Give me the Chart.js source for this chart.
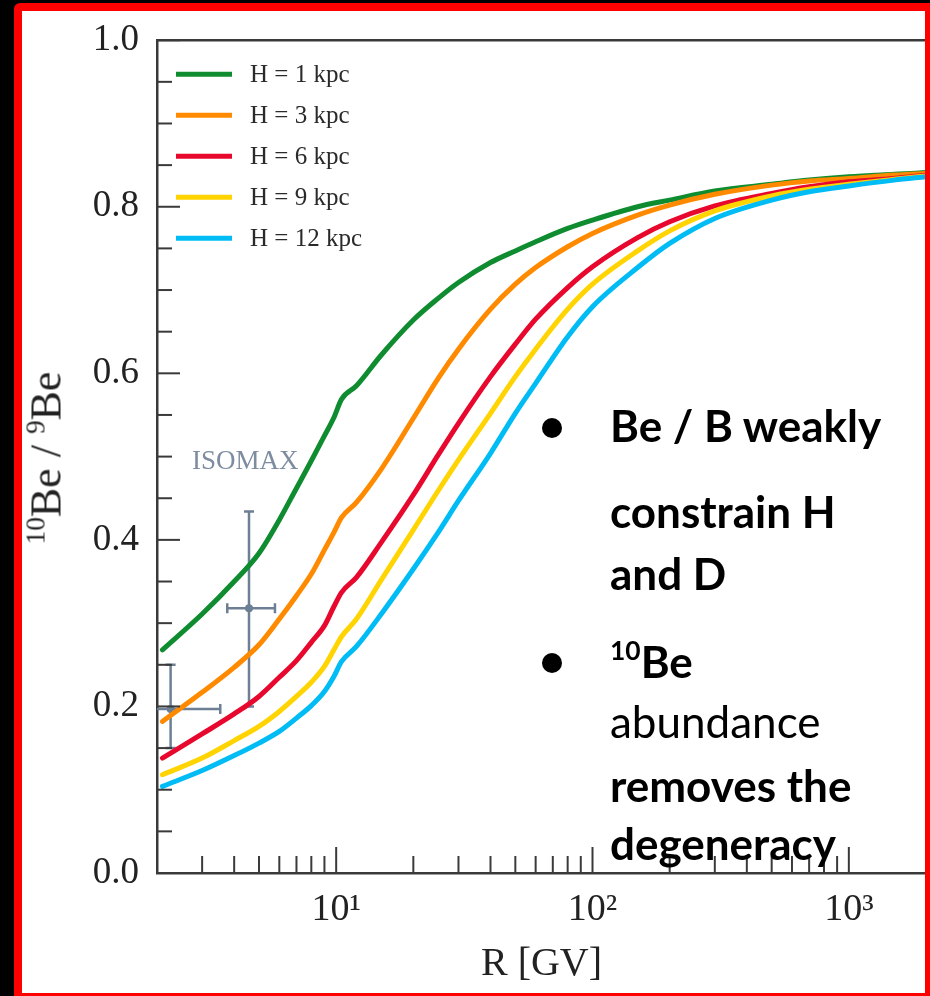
<!DOCTYPE html>
<html>
<head>
<meta charset="utf-8">
<script src="https://cdn.jsdelivr.net/npm/chart.js@4.4.0/dist/chart.umd.min.js"></script>
<style>
  html, body { margin: 0; padding: 0; background: #000; width: 930px; height: 996px; overflow: hidden; }
  #painel {
    position: absolute; left: 14px; top: 3px; width: 919px; height: 998px;
    box-sizing: border-box; border: 8px solid #ff0000; border-top-left-radius: 6px;
    background: #fff; overflow: hidden;
  }
  #grafico { position: absolute; left: -22px; top: -11px; }
  #titulo-y {
    position: absolute; left: 46px; top: 458px; white-space: nowrap;
    transform: translate(-50%, -50%) rotate(-90deg);
    font: 44px "Liberation Serif", serif; color: #222;
  }
  #titulo-y sup { font-size: 0.62em; vertical-align: baseline; position: relative; top: -0.6em; }
  .linha { position: absolute; left: 610px; white-space: nowrap; font: bold 44px Lato, sans-serif; line-height: 1; color: #000; }
  .linha.normal { font-weight: normal; }
  .linha sup { font-size: 0.6em; vertical-align: baseline; position: relative; top: -0.7em; }
  .bola { position: absolute; left: 542px; width: 20px; height: 20px; border-radius: 50%; background: #000; }
</style>
</head>
<body>
<div id="painel">
  <canvas id="grafico" width="940" height="996"></canvas>
</div>
<div id="titulo-y"><sup>10</sup>Be / <sup>9</sup>Be</div>

<div class="bola" style="top:418px"></div>
<div class="linha" style="top:403px">Be / B weakly</div>
<div class="linha" style="top:489px">constrain H</div>
<div class="linha" style="top:551px">and D</div>
<div class="bola" style="top:653px"></div>
<div class="linha" style="top:639px"><sup>10</sup>Be</div>
<div class="linha normal" style="top:699px">abundance</div>
<div class="linha" style="top:763px">removes the</div>
<div class="linha" style="top:821px">degeneracy</div>

<script>
// rigidity grid (GV) and 10Be/9Be ratio for each halo height
const rigidez = [2.1, 3, 4, 5, 6, 7, 8, 9, 9.8, 10.5, 12, 15, 20, 25, 30, 40, 50, 60, 80, 100, 150, 200, 300, 500, 700, 1000, 1500, 2000];
const razaoH1 = [0.268, 0.311, 0.350, 0.384, 0.424, 0.462, 0.495, 0.525, 0.547, 0.569, 0.585, 0.622, 0.664, 0.690, 0.709, 0.733, 0.747, 0.758, 0.774, 0.784, 0.800, 0.808, 0.819, 0.827, 0.832, 0.836, 0.839, 0.841];
const razaoH3 = [0.182, 0.217, 0.247, 0.274, 0.305, 0.333, 0.359, 0.388, 0.409, 0.427, 0.445, 0.485, 0.546, 0.594, 0.629, 0.677, 0.707, 0.727, 0.752, 0.768, 0.790, 0.802, 0.815, 0.826, 0.831, 0.834, 0.838, 0.840];
const razaoH6 = [0.138, 0.167, 0.191, 0.212, 0.235, 0.255, 0.277, 0.297, 0.320, 0.337, 0.355, 0.397, 0.454, 0.502, 0.540, 0.596, 0.635, 0.665, 0.703, 0.728, 0.763, 0.782, 0.801, 0.816, 0.824, 0.830, 0.834, 0.838];
const razaoH9 = [0.118, 0.138, 0.159, 0.176, 0.194, 0.212, 0.229, 0.248, 0.268, 0.284, 0.305, 0.352, 0.412, 0.459, 0.496, 0.552, 0.596, 0.629, 0.677, 0.707, 0.747, 0.771, 0.795, 0.813, 0.821, 0.827, 0.833, 0.837];
const razaoH12 = [0.104, 0.123, 0.141, 0.156, 0.170, 0.186, 0.201, 0.218, 0.236, 0.254, 0.272, 0.311, 0.365, 0.409, 0.447, 0.504, 0.552, 0.588, 0.644, 0.680, 0.727, 0.756, 0.786, 0.808, 0.818, 0.825, 0.832, 0.836];

const legendas = ["H = 1 kpc", "H = 3 kpc", "H = 6 kpc", "H = 9 kpc", "H = 12 kpc"];
const cores = ["#0f8c30", "#ff8a00", "#e8082e", "#ffd400", "#00bcf5"];

// ISOMAX points with error bars
const isoR = [2.26, 4.57];
const isoV = [0.197, 0.318];
const isoRMin = [1.9, 3.76];
const isoRMax = [3.53, 5.77];
const isoVMin = [0.15, 0.20];
const isoVMax = [0.25, 0.434];

// axis ticks
const xTicks = [3, 4, 5, 6, 7, 8, 9, 10, 20, 30, 40, 50, 60, 70, 80, 90, 100, 200, 300, 400, 500, 600, 700, 800, 900, 1000, 2000];
const xMajores = [10, 100, 1000];
const xRotulos = ["10\u00b9", "10\u00b2", "10\u00b3"];
const yTicks = [0, 0.05, 0.1, 0.15, 0.2, 0.25, 0.3, 0.35, 0.4, 0.45, 0.5, 0.55, 0.6, 0.65, 0.7, 0.75, 0.8, 0.85, 0.9, 0.95, 1.0];
const yMajores = [0, 0.2, 0.4, 0.6, 0.8, 1.0];

const corEixo = "#3a3a3a";
const corIso = "#6d7f94";
const serif = '"Liberation Serif", serif';

function ehMajor(lista, v) {
  return lista.some(m => Math.abs(m - v) < 1e-6 * Math.max(1, m));
}

const series = [razaoH1, razaoH3, razaoH6, razaoH9, razaoH12];
const datasets = series.map((valores, i) => ({
  label: legendas[i],
  data: rigidez.map((r, k) => ({ x: r, y: valores[k] })),
  borderColor: cores[i],
  borderWidth: 5,
  pointRadius: 0,
  fill: false,
  cubicInterpolationMode: "monotone",
  borderJoinStyle: "round",
  borderCapStyle: "round",
  order: 5 - i
}));

// error bars behind the curves
const pluginIsomax = {
  id: "isomax",
  beforeDatasetsDraw(chart) {
    const { ctx, chartArea: a, scales } = chart;
    const sx = scales.x, sy = scales.y;
    ctx.save();
    ctx.beginPath();
    ctx.rect(a.left, a.top, a.right - a.left, a.bottom - a.top);
    ctx.clip();
    ctx.strokeStyle = corIso;
    ctx.fillStyle = corIso;
    ctx.lineWidth = 2.5;
    const cap = 5;
    isoR.forEach((r, i) => {
      const px = sx.getPixelForValue(r);
      const py = sy.getPixelForValue(isoV[i]);
      const x0 = sx.getPixelForValue(isoRMin[i]);
      const x1 = sx.getPixelForValue(isoRMax[i]);
      const y0 = sy.getPixelForValue(isoVMin[i]);
      const y1 = sy.getPixelForValue(isoVMax[i]);
      ctx.beginPath();
      ctx.moveTo(x0, py); ctx.lineTo(x1, py);
      ctx.moveTo(px, y0); ctx.lineTo(px, y1);
      ctx.moveTo(x0, py - cap); ctx.lineTo(x0, py + cap);
      ctx.moveTo(x1, py - cap); ctx.lineTo(x1, py + cap);
      ctx.moveTo(px - cap, y0); ctx.lineTo(px + cap, y0);
      ctx.moveTo(px - cap, y1); ctx.lineTo(px + cap, y1);
      ctx.stroke();
      ctx.beginPath();
      ctx.arc(px, py, 4, 0, Math.PI * 2);
      ctx.fill();
    });
    ctx.restore();

    ctx.save();
    ctx.fillStyle = "#7d8ca0";
    ctx.font = "27px " + serif;
    ctx.textBaseline = "middle";
    ctx.fillText("ISOMAX", a.left + 35, 462);
    ctx.restore();
  }
};

// top frame line, inward ticks and the legend
const pluginMoldura = {
  id: "moldura",
  afterDraw(chart) {
    const { ctx, chartArea: a, scales } = chart;
    ctx.save();
    ctx.strokeStyle = corEixo;
    ctx.lineWidth = 2.5;
    ctx.beginPath();
    ctx.moveTo(a.left, a.top);
    ctx.lineTo(a.right + 10, a.top);
    ctx.stroke();

    ctx.lineWidth = 2;
    scales.x.ticks.forEach(t => {
      const px = scales.x.getPixelForValue(t.value);
      const len = ehMajor(xMajores, t.value) ? 26 : 17;
      ctx.beginPath();
      ctx.moveTo(px, a.bottom);
      ctx.lineTo(px, a.bottom - len);
      ctx.stroke();
    });
    scales.y.ticks.forEach(t => {
      const py = scales.y.getPixelForValue(t.value);
      const len = ehMajor(yMajores, t.value) ? 23 : 15;
      ctx.beginPath();
      ctx.moveTo(a.left, py);
      ctx.lineTo(a.left + len, py);
      ctx.stroke();
    });

    // legend
    ctx.font = "25px " + serif;
    ctx.textBaseline = "middle";
    chart.data.datasets.forEach((ds, i) => {
      const ly = a.top + 34 + i * 41;
      ctx.strokeStyle = ds.borderColor;
      ctx.lineWidth = 5;
      ctx.beginPath();
      ctx.moveTo(a.left + 19, ly);
      ctx.lineTo(a.left + 75, ly);
      ctx.stroke();
      ctx.fillStyle = "#2a2a2a";
      ctx.fillText(ds.label, a.left + 93, ly + 1);
    });
    ctx.restore();
  }
};

const ctx = document.getElementById("grafico").getContext("2d");
new Chart(ctx, {
  type: "line",
  data: { datasets },
  options: {
    responsive: false,
    animation: false,
    layout: { padding: { left: 0, top: 33, right: 6, bottom: 0 } },
    plugins: { legend: { display: false }, tooltip: { enabled: false } },
    scales: {
      x: {
        type: "logarithmic",
        min: 2,
        max: 2000,
        afterBuildTicks: s => { s.ticks = xTicks.map(v => ({ value: v })); },
        afterFit: s => { s.height = 123; },
        grid: { drawOnChartArea: false, drawTicks: false },
        border: { display: true, color: corEixo, width: 2.5 },
        ticks: {
          autoSkip: false,
          maxRotation: 0,
          padding: 14,
          color: "#222",
          font: { family: serif, size: 38 },
          callback: v => {
            const i = xMajores.findIndex(m => Math.abs(m - v) < 1e-6 * m);
            return i >= 0 ? xRotulos[i] : "";
          }
        },
        title: { display: true, text: "R [GV]", color: "#222", font: { family: serif, size: 40 }, padding: { top: 0, bottom: 8 } }
      },
      y: {
        min: 0,
        max: 1,
        afterBuildTicks: s => { s.ticks = yTicks.map(v => ({ value: v })); },
        afterFit: s => { s.width = 157; },
        grid: { drawOnChartArea: false, drawTicks: false },
        border: { display: true, color: corEixo, width: 2.5 },
        ticks: {
          autoSkip: false,
          padding: 18,
          color: "#222",
          font: { family: serif, size: 37 },
          callback: v => ehMajor(yMajores, v) ? v.toFixed(1) : ""
        }
      }
    }
  },
  plugins: [pluginIsomax, pluginMoldura]
});
</script>
</body>
</html>
